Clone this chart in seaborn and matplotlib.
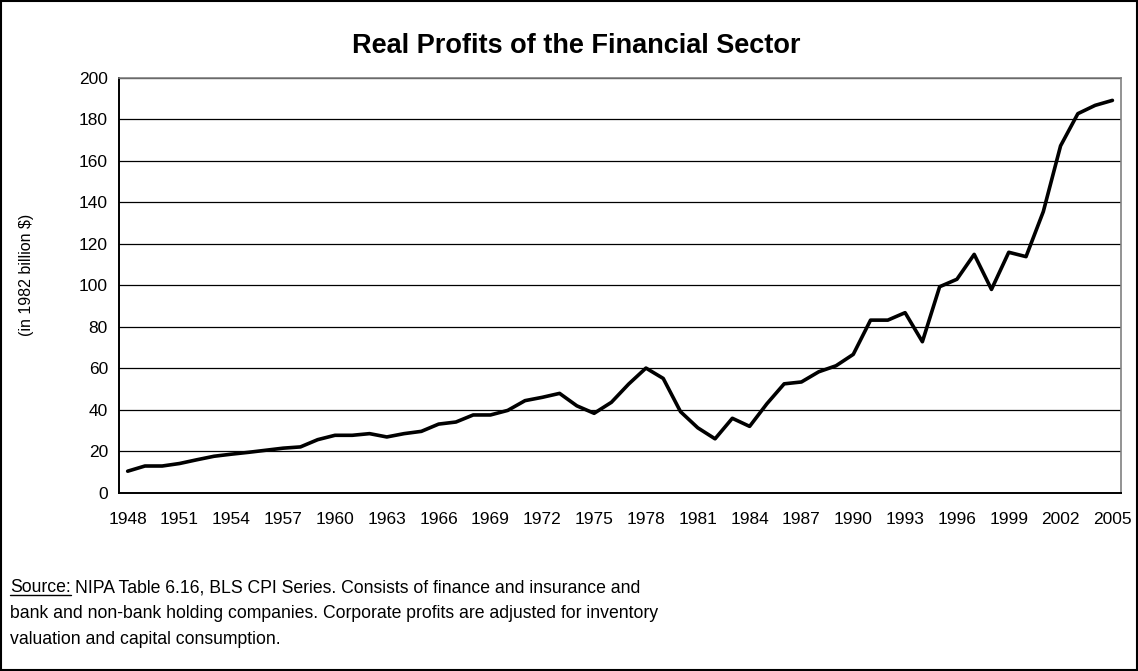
import numpy as np
import pandas as pd
import seaborn as sns
import matplotlib.pyplot as plt
from matplotlib.patches import Rectangle
from matplotlib.lines import Line2D

# Dados (bilhões de $ de 1982)
anos = list(range(1948, 2006))
lucros = [10.5, 13.0, 13.0, 14.2, 16.0, 17.7, 18.7, 19.6, 20.6, 21.6,
          22.2, 25.7, 27.8, 27.8, 28.6, 27.0, 28.6, 29.7, 33.2, 34.2,
          37.6, 37.6, 39.8, 44.5, 46.1, 48.0, 42.0, 38.4, 43.7, 52.5,
          60.2, 55.2, 39.2, 31.4, 26.1, 36.0, 32.1, 43.0, 52.6, 53.5,
          58.4, 61.3, 66.8, 83.3, 83.3, 86.9, 72.9, 99.4, 103.0, 115.0,
          98.1, 116.0, 113.9, 135.6, 167.3, 182.8, 186.8, 189.2]
rotulos_y = list(range(0, 201, 20))

df = pd.DataFrame({"ano": anos, "lucro": lucros})
df["pos"] = np.arange(len(df))

sns.set_style("white")
plt.rcParams['font.family'] = ['Liberation Sans', 'DejaVu Sans']
plt.rcParams['text.color'] = 'black'
plt.rcParams['xtick.color'] = 'black'
plt.rcParams['ytick.color'] = 'black'

fig = plt.figure(figsize=(11.38, 6.71), dpi=100)
ax = fig.add_axes([0.1046, 0.2653, 0.8805, 0.6185])

sns.lineplot(data=df, x="pos", y="lucro", color="black", linewidth=2.6, ax=ax)

# Eixos
ax.set_xlim(-0.5, len(anos) - 0.5)
ax.set_ylim(0, 200)
ax.set_yticks(rotulos_y)
ax.set_yticklabels([str(v) for v in rotulos_y], fontsize=12.5)
ax.set_xticks(df["pos"][::3])
ax.set_xticklabels([str(a) for a in anos[::3]], fontsize=12.5)
ax.set_xticks(np.arange(-0.5, len(anos), 1), minor=True)
ax.tick_params(axis="x", which="major", length=0, pad=14)
ax.tick_params(axis="x", which="minor", length=5, width=1, color="black", direction="out")
ax.tick_params(axis="y", length=5, width=1, color="black", direction="out", pad=3)
ax.grid(axis="y", color="black", linewidth=0.9)
ax.set_axisbelow(True)
ax.set_xlabel("")
ax.set_ylabel("")

for lado in ["top", "right"]:
    ax.spines[lado].set_color("#808080")
    ax.spines[lado].set_linewidth(1.2)
for lado in ["left", "bottom"]:
    ax.spines[lado].set_color("black")
    ax.spines[lado].set_linewidth(1.4)

# Títulos
fig.text(576 / 1138, 1 - 46 / 671, "Real Profits of the Financial Sector",
         ha="center", va="center", fontsize=19.5, fontweight="bold")
fig.text(26 / 1138, 1 - 275 / 671, "(in 1982 billion $)", rotation=90,
         ha="center", va="center", fontsize=11.5)

# Nota de fonte
linhas = ["NIPA Table 6.16, BLS CPI Series. Consists of finance and insurance and",
          "bank and non-bank holding companies. Corporate profits are adjusted for inventory",
          "valuation and capital consumption."]
x0 = 10 / 1138
t_src = fig.text(x0, 1 - 588 / 671, "Source:", ha="left", va="center", fontsize=12.7)
fig.canvas.draw()
bb = t_src.get_window_extent().transformed(fig.transFigure.inverted())
fig.text(bb.x1 + 0.004, 1 - 588 / 671, linhas[0], ha="left", va="center", fontsize=12.7)
fig.lines.append(Line2D([bb.x0, bb.x1], [bb.y0 + 0.002, bb.y0 + 0.002],
                        transform=fig.transFigure, color="black", linewidth=1))
fig.text(x0, 1 - 614 / 671, linhas[1], ha="left", va="center", fontsize=12.7)
fig.text(x0, 1 - 640 / 671, linhas[2], ha="left", va="center", fontsize=12.7)

# Moldura externa
fig.patches.append(Rectangle((0.001, 0.0015), 0.998, 0.997, transform=fig.transFigure,
                             fill=False, edgecolor="black", linewidth=1.5))

fig.savefig("out.png", dpi=100)
